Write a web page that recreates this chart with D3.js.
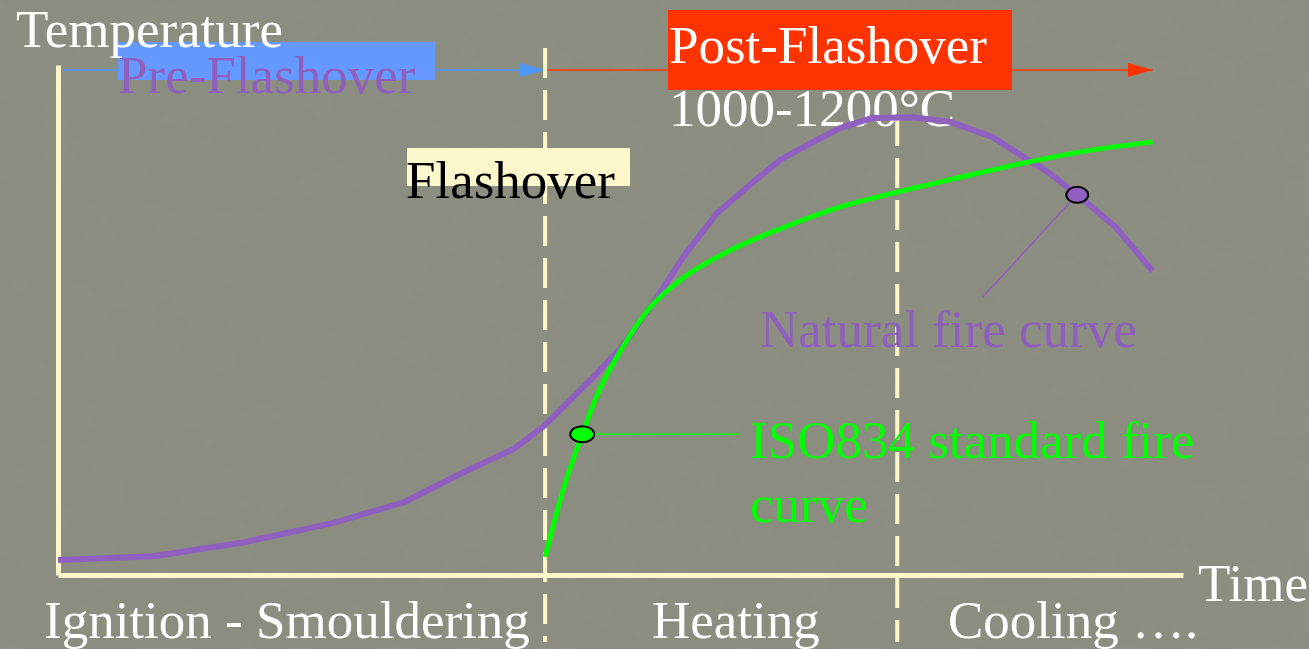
<!DOCTYPE html>
<html>
<head>
<meta charset="utf-8">
<title>Fire development curve</title>
<script src="https://cdn.jsdelivr.net/npm/d3@7"></script>
<style>
  html, body { margin: 0; padding: 0; background: #8a8d7f; overflow: hidden; }
  svg text { font-family: "Liberation Serif", "Times New Roman", serif; font-size: 53px; }
</style>
</head>
<body>
<script>
'use strict';

// time in arbitrary minutes (0-100), temperature in deg C
const naturalTime = [0, 8.5, 16.3, 24.5, 30.8, 35.9, 40.5, 43.3, 47.5, 50.1, 52.8, 55.7, 58.6, 61.8, 64.2, 66.6, 69.5, 72.4, 76, 79.3, 83.1, 85.8, 88, 90.6, 94, 97.3];
const naturalTemp = [38, 48, 82, 133, 186, 260, 321, 382, 502, 581, 688, 816, 923, 1002, 1058, 1096, 1139, 1165, 1167, 1155, 1116, 1066, 1027, 969, 887, 775];

const isoTime = [43.3, 44.9, 46.6, 48, 50.2, 52.6, 55.7, 59.3, 64.4, 69.5, 74.6, 80.4, 85.8, 90.8, 97.3];
const isoTemp = [46, 217, 359, 464, 581, 681, 760, 821, 885, 938, 976, 1015, 1050, 1078, 1104];

const phaseBounds = [43.3, 74.6];        // flashover, start of cooling
const phaseLabels = ['Ignition - Smouldering', 'Heating', 'Cooling \u2026.'];
const isoMarker = [46.6, 359];
const naturalMarker = [90.6, 969];

const width = 1309;
const height = 649;

let svg = '';
let x, y;

window.onload = function() {
  svg = d3.select('body')
    .append('svg')
    .attr('width', width)
    .attr('height', height);

  drawBackground();
  makeScales();
  drawPhaseBar();
  drawAxes();
  drawDividers();
  drawCurves();
  makeLabels();
};

function drawBackground() {
  let defs = svg.append('defs');
  let f = defs.append('filter').attr('id', 'grain')
    .attr('x', 0).attr('y', 0).attr('width', '100%').attr('height', '100%');
  f.append('feTurbulence')
    .attr('type', 'fractalNoise')
    .attr('baseFrequency', 0.025)
    .attr('numOctaves', 4)
    .attr('seed', 7);
  f.append('feColorMatrix')
    .attr('type', 'matrix')
    .attr('values', '0 0 0 0 0.3  0 0 0 0 0.31  0 0 0 0 0.27  0 0 0 -1.4 0.9');

  defs.append('marker').attr('id', 'arrowBlue')
    .attr('viewBox', '0 0 25 14').attr('refX', 25).attr('refY', 7)
    .attr('markerWidth', 25).attr('markerHeight', 14)
    .attr('markerUnits', 'userSpaceOnUse').attr('orient', 'auto')
    .append('path').attr('d', 'M0,0L25,7L0,14Z').attr('fill', '#4d97ff');
  defs.append('marker').attr('id', 'arrowRed')
    .attr('viewBox', '0 0 25 14').attr('refX', 25).attr('refY', 7)
    .attr('markerWidth', 25).attr('markerHeight', 14)
    .attr('markerUnits', 'userSpaceOnUse').attr('orient', 'auto')
    .append('path').attr('d', 'M0,0L25,7L0,14Z').attr('fill', '#ff3300');

  svg.append('rect')
    .attr('width', width).attr('height', height)
    .attr('fill', '#8a8d7f');
  svg.append('rect')
    .attr('width', width).attr('height', height)
    .attr('filter', 'url(#grain)')
    .attr('opacity', 0.3);
}

function makeScales() {
  x = d3.scaleLinear().domain([0, 100]).range([58, 1183]);
  y = d3.scaleLinear().domain([0, 1300]).range([575, 65]);
}

function drawPhaseBar() {
  let barY = 70;
  svg.append('line')
    .attr('x1', x(0) + 6).attr('x2', x(phaseBounds[0]))
    .attr('y1', barY).attr('y2', barY)
    .attr('stroke', '#4d97ff').attr('stroke-width', 1.5)
    .attr('marker-end', 'url(#arrowBlue)');
  svg.append('line')
    .attr('x1', x(phaseBounds[0])).attr('x2', x(97.3))
    .attr('y1', barY).attr('y2', barY)
    .attr('stroke', '#ff3300').attr('stroke-width', 1.5)
    .attr('marker-end', 'url(#arrowRed)');

  // Pre-Flashover box
  svg.append('rect')
    .attr('x', 118).attr('y', 42).attr('width', 317).attr('height', 38)
    .attr('fill', '#6699ff');
  svg.append('text')
    .attr('x', 118).attr('y', 93)
    .attr('fill', '#8f5fbd')
    .text('Pre-Flashover');

  // Post-Flashover box
  svg.append('rect')
    .attr('x', 668).attr('y', 10).attr('width', 344).attr('height', 80)
    .attr('fill', '#ff3300');
  svg.append('text')
    .attr('x', 669).attr('y', 63)
    .attr('fill', '#ffffff')
    .text('Post-Flashover');
  svg.append('text')
    .attr('x', 669).attr('y', 126)
    .attr('fill', '#ffffff')
    .text('1000-1200\u00b0C');

  svg.append('text')
    .attr('x', 16).attr('y', 47)
    .attr('fill', '#ffffff')
    .text('Temperature');
}

function drawAxes() {
  let xAxis = d3.axisBottom(x).tickValues([]).tickSizeOuter(0);
  let yAxis = d3.axisLeft(y).tickValues([]).tickSizeOuter(0);

  svg.append('g')
    .attr('transform', 'translate(0,' + y(0) + ')')
    .call(xAxis)
    .select('.domain')
    .attr('stroke', '#fdf6c8').attr('stroke-width', 5);

  svg.append('g')
    .attr('transform', 'translate(' + x(0) + ',0)')
    .call(yAxis)
    .select('.domain')
    .attr('stroke', '#fdf6c8').attr('stroke-width', 5);
}

function drawDividers() {
  let tops = [48, 116];
  svg.selectAll('.divider')
    .data(phaseBounds)
    .enter()
    .append('line')
      .attr('class', 'divider')
      .attr('x1', (d) => x(d)).attr('x2', (d) => x(d))
      .attr('y1', (d, i) => tops[i]).attr('y2', 642)
      .attr('stroke', '#fdf6c8')
      .attr('stroke-width', 4)
      .attr('stroke-dasharray', '30,12');

  // Flashover label
  svg.append('rect')
    .attr('x', 407).attr('y', 148).attr('width', 223).attr('height', 38)
    .attr('fill', '#fdf8cc');
  svg.append('text')
    .attr('x', 406).attr('y', 198)
    .attr('fill', '#000000')
    .text('Flashover');
}

function drawCurves() {
  let line = d3.line()
    .x((d) => x(d[0]))
    .y((d) => y(d[1]));

  let natural = naturalTime.map((t, i) => [t, naturalTemp[i]]);
  let iso = isoTime.map((t, i) => [t, isoTemp[i]]);

  svg.append('path')
    .datum(natural)
    .attr('d', line)
    .attr('fill', 'none')
    .attr('stroke', '#9060c0')
    .attr('stroke-width', 6)
    .attr('stroke-linejoin', 'round');

  svg.append('path')
    .datum(iso)
    .attr('d', line.curve(d3.curveMonotoneX))
    .attr('fill', 'none')
    .attr('stroke', '#00ff00')
    .attr('stroke-width', 5);

  // leader lines
  svg.append('line')
    .attr('x1', x(isoMarker[0]) + 12).attr('x2', 740)
    .attr('y1', y(isoMarker[1])).attr('y2', y(isoMarker[1]))
    .attr('stroke', '#00ff00').attr('stroke-width', 1.5);
  svg.append('line')
    .attr('x1', x(naturalMarker[0]) - 6).attr('x2', 983)
    .attr('y1', y(naturalMarker[1]) + 6).attr('y2', 297)
    .attr('stroke', '#9060c0').attr('stroke-width', 1.5);

  svg.append('ellipse')
    .attr('cx', x(isoMarker[0])).attr('cy', y(isoMarker[1]))
    .attr('rx', 12).attr('ry', 8)
    .attr('fill', '#00ff00')
    .attr('stroke', '#000').attr('stroke-width', 2);
  svg.append('ellipse')
    .attr('cx', x(naturalMarker[0])).attr('cy', y(naturalMarker[1]))
    .attr('rx', 11).attr('ry', 8)
    .attr('fill', '#9060c0')
    .attr('stroke', '#000').attr('stroke-width', 2);
}

function makeLabels() {
  svg.append('text')
    .attr('x', 760).attr('y', 347)
    .attr('fill', '#8f5fbd')
    .text('Natural fire curve');

  svg.append('text')
    .attr('x', 750).attr('y', 458)
    .attr('fill', '#00ff00')
    .text('ISO834 standard fire');
  svg.append('text')
    .attr('x', 750).attr('y', 522)
    .attr('fill', '#00ff00')
    .text('curve');

  svg.append('text')
    .attr('x', 1198).attr('y', 601)
    .attr('fill', '#ffffff')
    .text('Time');

  let labelX = [44, 652, 948];
  svg.selectAll('.phase')
    .data(phaseLabels)
    .enter()
    .append('text')
      .attr('class', 'phase')
      .attr('x', (d, i) => labelX[i])
      .attr('y', 638)
      .attr('fill', '#ffffff')
      .text((d) => d);
}
</script>
</body>
</html>
